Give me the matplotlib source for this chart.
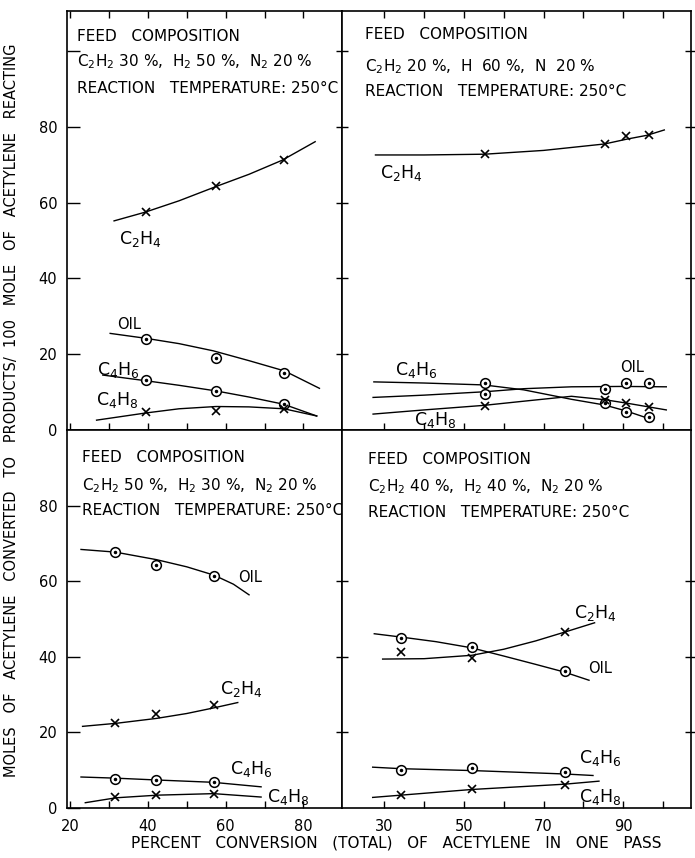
import matplotlib.pyplot as plt


# conversao (%) de cada corrida
conv_a = [39.5, 57.6, 74.9]          # C2H2 30 %, H2 50 %
conv_b = [55.2, 85.3, 90.8, 96.4]    # C2H2 20 %, H2 60 %
conv_c = [31.6, 42.2, 57.0]          # C2H2 50 %, H2 30 %
conv_d = [34.2, 52.0, 75.3]          # C2H2 40 %, H2 40 %

# moles / 100 moles de C2H2 reagido (pontos medidos)
a_c2h4 = [57.6, 64.5, 71.4]
a_oil = [24.0, 18.9, 15.1]
a_c4h6 = [13.2, 10.4, 6.9]
a_c4h8 = [4.7, 5.0, 5.5]

b_c2h4 = [72.8, 75.5, 77.6, 77.8]
b_oil = [9.6, 10.8, 12.3, 12.3]
b_c4h6 = [12.3, 7.0, 4.8, 3.5]
b_c4h8 = [6.4, 7.8, 7.2, 6.1]

c_oil = [67.6, 64.4, 61.5]
c_c2h4 = [22.6, 24.8, 27.3]
c_c4h6 = [7.6, 7.4, 6.9]
c_c4h8 = [3.0, 3.4, 3.8]

d_oil = [45.0, 42.6, 36.2]
d_c2h4 = [41.3, 39.7, 46.5]
d_c4h6 = [10.0, 10.6, 9.4]
d_c4h8 = [3.4, 5.0, 6.2]

# curvas tracadas a mao (nos)
a_c2h4_line = ([31.3, 39.3, 48, 57.6, 66, 74.5, 83], [55.2, 57.5, 60.5, 64.3, 67.5, 71.2, 76.1])
a_oil_line = ([30.3, 39.5, 48, 56.8, 66, 75.1, 84.1], [25.5, 24.2, 22.8, 20.9, 18.3, 15.6, 11.0])
a_c4h6_line = ([28.4, 39.5, 48, 57.6, 66, 74.9, 83.4], [14.5, 13.0, 11.8, 10.3, 8.7, 6.8, 3.7])
a_c4h8_line = ([26.8, 39.5, 48, 57.5, 66, 75, 83.4], [2.6, 4.5, 5.6, 6.2, 6.1, 5.6, 3.7])

b_c2h4_line = ([27.8, 40, 55.2, 70, 85.3, 91, 96, 100.3], [72.6, 72.6, 72.8, 73.8, 75.5, 76.8, 77.8, 79.2])
b_oil_line = ([27.2, 40, 55.3, 65, 77, 90, 100.8], [8.6, 9.2, 10.1, 10.9, 11.4, 11.5, 11.4])
b_c4h6_line = ([27.4, 40, 55, 65, 77, 85.3, 90.8, 96.2], [12.7, 12.4, 11.9, 10.6, 8.1, 6.6, 5.0, 3.1])
b_c4h8_line = ([27.2, 40, 55, 65, 77, 85.3, 90.8, 100.8], [4.2, 5.3, 6.5, 7.6, 8.9, 8.0, 7.1, 5.3])

c_oil_line = ([22.8, 31.6, 42.2, 50, 57, 62, 66], [68.4, 67.7, 65.7, 63.8, 61.6, 59.2, 56.4])
c_c2h4_line = ([23.2, 31.8, 42.2, 50, 57, 63.1], [21.6, 22.4, 23.7, 25.0, 26.5, 27.9])
c_c4h6_line = ([22.8, 31.6, 42.5, 56.7, 69.1], [8.2, 7.9, 7.4, 6.8, 5.6])
c_c4h8_line = ([23.9, 31.8, 42.5, 56.9, 69.1], [1.4, 2.7, 3.4, 3.8, 2.9])

d_oil_line = ([27.5, 34.4, 43, 51.8, 60, 68, 75.1, 81.4], [46.1, 45.2, 44.0, 42.4, 40.2, 38.0, 36.0, 33.8])
d_c2h4_line = ([29.6, 40, 52, 60, 68, 75.5, 82.8], [39.4, 39.5, 40.4, 42.0, 44.2, 46.6, 49.0])
d_c4h6_line = ([27.1, 34.2, 52.2, 75.3, 82.4], [10.8, 10.4, 9.9, 9.0, 8.6])
d_c4h8_line = ([27.1, 34.2, 52, 75.3, 83.9], [2.8, 3.4, 4.9, 6.3, 7.1])

feed_a = r"C$_2$H$_2$ 30 %,  H$_2$ 50 %,  N$_2$ 20 %"
feed_b = r"C$_2$H$_2$ 20 %,  H  60 %,  N  20 %"
feed_c = r"C$_2$H$_2$ 50 %,  H$_2$ 30 %,  N$_2$ 20 %"
feed_d = r"C$_2$H$_2$ 40 %,  H$_2$ 40 %,  N$_2$ 20 %"

W, H = 695, 858


def painel(fig, left, top, right, bottom, xlim, ylim):
    ax = fig.add_axes([left / W, 1 - bottom / H, (right - left) / W, (bottom - top) / H])
    ax.set_xlim(*xlim)
    ax.set_ylim(*ylim)
    for s in ax.spines.values():
        s.set_linewidth(1.2)
    return ax


def serie(ax, conv, y, line, marca):
    ax.plot(line[0], line[1], color="k", lw=1.0)
    if marca == "x":
        ax.plot(conv, y, ls="none", marker="x", ms=6, mew=1.2, color="k")
    else:
        ax.plot(conv, y, ls="none", marker="o", ms=7, mfc="white", mec="k", mew=1.1)
        ax.plot(conv, y, ls="none", marker=".", ms=3, color="k")


def cabecalho(ax, x, ys, feed):
    kw = dict(transform=ax.transAxes, fontsize=11, va="center", ha="left", clip_on=False)
    ax.text(x, ys[0], "FEED   COMPOSITION", **kw)
    ax.text(x, ys[1], feed, **kw)
    ax.text(x, ys[2], "REACTION   TEMPERATURE: 250°C", **kw)


def main():
    fig = plt.figure(figsize=(W / 100, H / 100), dpi=100)
    fig.patch.set_facecolor("white")

    ax_a = painel(fig, 67, 11, 342, 430, (19.2, 89.9), (0, 110.6))
    ax_b = painel(fig, 342, 11, 691, 430, (19.4, 107), (0, 110.6))
    ax_c = painel(fig, 67, 430, 342, 808, (19.2, 89.9), (0, 100))
    ax_d = painel(fig, 342, 430, 691, 808, (19.4, 107), (0, 100))

    serie(ax_a, conv_a, a_c2h4, a_c2h4_line, "x")
    serie(ax_a, conv_a, a_oil, a_oil_line, "o")
    serie(ax_a, conv_a, a_c4h6, a_c4h6_line, "o")
    serie(ax_a, conv_a, a_c4h8, a_c4h8_line, "x")

    serie(ax_b, conv_b, b_c2h4, b_c2h4_line, "x")
    serie(ax_b, conv_b, b_oil, b_oil_line, "o")
    serie(ax_b, conv_b, b_c4h6, b_c4h6_line, "o")
    serie(ax_b, conv_b, b_c4h8, b_c4h8_line, "x")

    serie(ax_c, conv_c, c_oil, c_oil_line, "o")
    serie(ax_c, conv_c, c_c2h4, c_c2h4_line, "x")
    serie(ax_c, conv_c, c_c4h6, c_c4h6_line, "o")
    serie(ax_c, conv_c, c_c4h8, c_c4h8_line, "x")

    serie(ax_d, conv_d, d_oil, d_oil_line, "o")
    serie(ax_d, conv_d, d_c2h4, d_c2h4_line, "x")
    serie(ax_d, conv_d, d_c4h6, d_c4h6_line, "o")
    serie(ax_d, conv_d, d_c4h8, d_c4h8_line, "x")

    # rotulos das curvas
    sp = dict(fontsize=12.5, ha="left", va="center")
    ax_a.text(32.5, 50.5, r"C$_2$H$_4$", **sp)
    ax_a.text(32.0, 27.8, "OIL", fontsize=10.5, ha="left", va="center")
    ax_a.text(27.0, 15.8, r"C$_4$H$_6$", **sp)
    ax_a.text(26.7, 7.9, r"C$_4$H$_8$", **sp)

    ax_b.text(29.0, 67.8, r"C$_2$H$_4$", **sp)
    ax_b.text(32.7, 15.8, r"C$_4$H$_6$", **sp)
    ax_b.text(89.3, 16.6, "OIL", fontsize=10.5, ha="left", va="center")
    ax_b.text(37.5, 2.6, r"C$_4$H$_8$", **sp)

    ax_c.text(63.1, 61.0, "OIL", fontsize=10.5, ha="left", va="center")
    ax_c.text(58.5, 31.6, r"C$_2$H$_4$", **sp)
    ax_c.text(61.1, 10.4, r"C$_4$H$_6$", **sp)
    ax_c.text(70.5, 2.8, r"C$_4$H$_8$", **sp)

    ax_d.text(77.6, 51.5, r"C$_2$H$_4$", **sp)
    ax_d.text(81.1, 36.9, "OIL", fontsize=10.5, ha="left", va="center")
    ax_d.text(78.9, 13.1, r"C$_4$H$_6$", **sp)
    ax_d.text(78.9, 2.8, r"C$_4$H$_8$", **sp)

    cabecalho(ax_a, 0.036, (0.938, 0.878, 0.816), feed_a)
    cabecalho(ax_b, 0.066, (0.943, 0.866, 0.807), feed_b)
    cabecalho(ax_c, 0.055, (0.926, 0.854, 0.788), feed_c)
    cabecalho(ax_d, 0.075, (0.921, 0.849, 0.783), feed_d)

    # eixos
    left_x = [20, 30, 40, 50, 60, 70, 80]
    left_lab = ["20", "", "40", "", "60", "", "80"]
    right_x = [30, 40, 50, 60, 70, 80, 90, 100]
    right_lab = ["30", "", "50", "", "70", "", "90", ""]

    for ax, xt, xl, bottom_row in [(ax_a, left_x, left_lab, False), (ax_b, right_x, right_lab, False),
                                   (ax_c, left_x, left_lab, True), (ax_d, right_x, right_lab, True)]:
        ax.set_xticks(xt)
        if bottom_row:
            ax.set_xticklabels(xl, fontsize=10.5)
            ax.tick_params(axis="x", direction="in", length=5, width=1, top=False, pad=8)
        else:
            ax.set_xticklabels([])
            ax.tick_params(axis="x", direction="in", length=5, width=1, top=True)

    ax_a.set_yticks([0, 20, 40, 60, 80, 100])
    ax_a.set_yticklabels(["0", "20", "40", "60", "80", ""], fontsize=10.5)
    ax_c.set_yticks([0, 20, 40, 60, 80])
    ax_c.set_yticklabels(["0", "20", "40", "60", "80"], fontsize=10.5)
    for ax in (ax_a, ax_c):
        ax.tick_params(axis="y", direction="in", length=9, width=1, pad=7)

    ax_b.set_yticks([20, 40, 60, 80, 100])
    ax_d.set_yticks([20, 40, 60])
    for ax in (ax_b, ax_d):
        ax.set_yticklabels([])
        ax.tick_params(axis="y", which="both", direction="inout", length=9, width=1,
                       left=True, right=True)

    fig.text(0.016, 0.522,
             "MOLES   OF   ACETYLENE   CONVERTED   TO   PRODUCTS/  100   MOLE   OF   ACETYLENE   REACTING",
             rotation=90, ha="center", va="center", fontsize=10.5)
    fig.text(0.57, 0.0175, "PERCENT   CONVERSION   (TOTAL)   OF   ACETYLENE   IN   ONE   PASS",
             ha="center", va="center", fontsize=11)

    fig.savefig("out.png", dpi=100)


if __name__ == "__main__":
    main()
